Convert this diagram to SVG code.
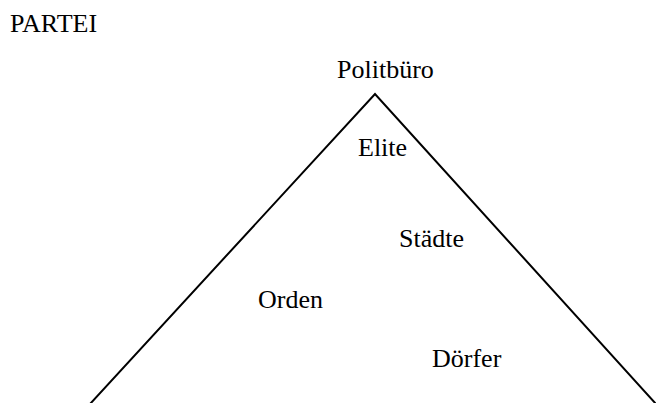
<svg xmlns="http://www.w3.org/2000/svg" width="656" height="403" viewBox="0 0 656 403">
<style>
.lbl{font-family:"Liberation Serif","Times New Roman",serif;font-size:26px;fill:#000}
.edge{stroke:#000;stroke-width:2;fill:none}
</style>
<rect width="656" height="403" fill="#fff"/>
<g id="connectors">
<polyline class="edge" points="90,404 375,94 656,404"/>
</g>
<g id="partei"><text class="lbl" x="10" y="32">PARTEI</text></g>
<g id="politburo"><text class="lbl" x="337" y="78">Politbüro</text></g>
<g id="elite"><text class="lbl" x="358" y="156">Elite</text></g>
<g id="staedte"><text class="lbl" x="399" y="247">Städte</text></g>
<g id="orden"><text class="lbl" x="258" y="308">Orden</text></g>
<g id="doerfer"><text class="lbl" x="432" y="367">Dörfer</text></g>
</svg>
